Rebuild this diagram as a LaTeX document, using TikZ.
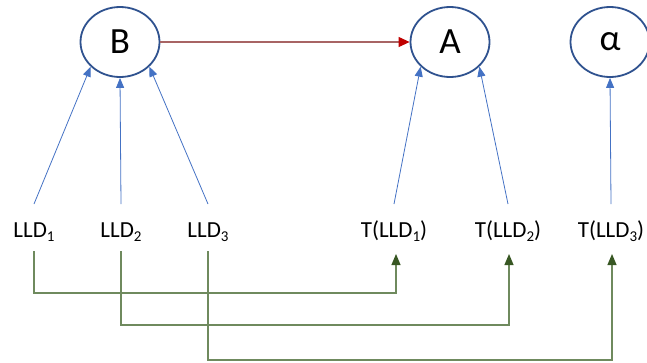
\documentclass[tikz,border=0pt]{standalone}
\usepackage{fontspec}
\setmainfont{Carlito}
\usetikzlibrary{arrows.meta,shapes.geometric}

\definecolor{cborder}{HTML}{2F528F}
\definecolor{cblue}{HTML}{4472C4}
\definecolor{cgreen}{HTML}{385723}
\definecolor{cgreenl}{HTML}{6F8A5E}
\definecolor{credl}{HTML}{A86464}
\definecolor{credh}{HTML}{C00000}

\newcommand{\lsub}[1]{\raisebox{-4.5pt}{\fontsize{15}{16}\selectfont #1}}

\tikzstyle{var}=[ellipse, draw=cborder, line width=1.8pt, minimum width=79pt, minimum height=70pt, inner sep=0pt, font=\fontsize{37}{39}\selectfont]
\tikzstyle{lld}=[anchor=base, inner sep=0pt, font=\fontsize{23}{25}\selectfont]
\tikzstyle{barrow}=[draw=cblue, line width=0.8pt, -{Triangle[length=10pt,width=8pt]}]
\tikzstyle{garrow}=[draw=cgreenl, line width=1.1pt, -{Triangle[length=11pt,width=9pt,color=cgreen]}]
\tikzstyle{rarrow}=[draw=credl, line width=1.1pt, -{Triangle[length=11pt,width=10pt,color=credh]}]

\begin{document}
\begin{tikzpicture}[x=1pt,y=-1pt]
\useasboundingbox (0,0) rectangle (647,362);

\node [var] (vB) at (120,42) {B};
\node [var] (vA) at (450,42) {A};
\node [var] (va) at (610,42) {α};

\node [lld] (l1) at (34,237) {LLD\lsub{1}};
\node [lld] (l2) at (121,237) {LLD\lsub{2}};
\node [lld] (l3) at (208,237) {LLD\lsub{3}};
\node [lld] (t1) at (394,237) {T(LLD\lsub{1})};
\node [lld] (t2) at (508,237) {T(LLD\lsub{2})};
\node [lld] (t3) at (611,237) {T(LLD\lsub{3})};

\draw [rarrow] (vB.east) -- (vA.west);

\draw [barrow] ([yshift=33pt]l1.base) -- (vB.-140);
\draw [barrow] ([yshift=33pt]l2.base) -- (vB.-90);
\draw [barrow] ([yshift=33pt]l3.base) -- (vB.-40);
\draw [barrow] ([yshift=33pt]t1.base) -- (vA.-140);
\draw [barrow] ([yshift=33pt]t2.base) -- (vA.-40);
\draw [barrow] ([yshift=33pt]t3.base) -- (va.-90);

\draw [garrow] ([yshift=-14pt]l1.base) -- ++(0,42) -| ([xshift=2pt,yshift=-17pt]t1.base);
\draw [garrow] ([yshift=-14pt]l2.base) -- ++(0,74) -| ([xshift=1pt,yshift=-17pt]t2.base);
\draw [garrow] ([yshift=-14pt]l3.base) -- ++(0,109) -| ([xshift=1pt,yshift=-17pt]t3.base);
\end{tikzpicture}
\end{document}
